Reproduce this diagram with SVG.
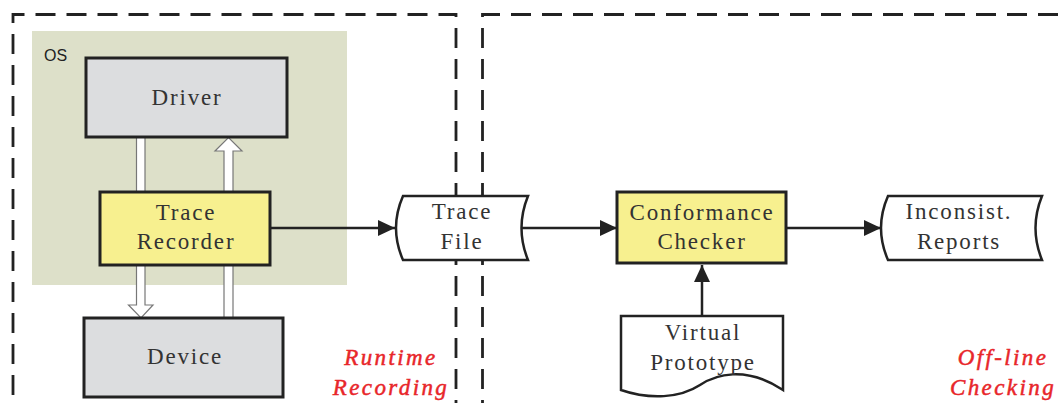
<svg xmlns="http://www.w3.org/2000/svg" width="1060" height="403" viewBox="0 0 1060 403">
<style>
.dash{fill:none;stroke:#222;stroke-width:2.8;stroke-dasharray:20 11}
.box{stroke:#222;stroke-width:3}
.gray{fill:#dcdddf}
.yel{fill:#f7f08f}
.doc{fill:#fff;stroke:#222;stroke-width:2.5}
.lbl{font-family:"Liberation Serif","Times New Roman",serif;font-size:23px;fill:#333;text-anchor:middle;letter-spacing:1.8px}
.red{font-family:"Liberation Serif","Times New Roman",serif;font-size:23px;fill:#e8262a;stroke:#e8262a;stroke-width:0.5;font-style:italic;text-anchor:middle;letter-spacing:2.4px}
.blk{fill:#fff;stroke:#777;stroke-width:1.2}
.con{fill:none;stroke:#222;stroke-width:2.5}
</style>
<defs>
<marker id="ah" markerWidth="17" markerHeight="16" refX="17" refY="8" orient="auto" markerUnits="userSpaceOnUse">
<path d="M0,0 L17,8 L0,16 Z" fill="#222"/>
</marker>
</defs>
<rect width="1060" height="403" fill="#fff"/>
<g id="regions">
<path class="dash" d="M456,420 V14.5 H13 V420"/>
<path class="dash" d="M482.5,420 V14.5 H1080"/>
<rect id="os-area" x="32" y="31" width="315" height="254" fill="#dde0c9"/>
<text x="44" y="61" font-family="Liberation Sans,Arial,sans-serif" font-size="16" fill="#222">OS</text>
<text class="red" x="391" y="365">Runtime</text>
<text class="red" x="391" y="395">Recording</text>
<text class="red" x="1003" y="365">Off-line</text>
<text class="red" x="1003" y="395">Checking</text>
</g>
<g id="block-arrows">
<path class="blk" d="M136.5,137 H145 V305 H153 L141,318 L128.5,305 H136.5 Z"/>
<path class="blk" d="M224,318 H233 V151 H242 L228.5,137.5 L215,151 H224 Z"/>
</g>
<g id="driver">
<rect class="box gray" x="86" y="58" width="201" height="79"/>
<text class="lbl" x="187" y="105">Driver</text>
</g>
<g id="trace-recorder">
<rect class="box yel" x="100" y="192" width="170" height="73"/>
<text class="lbl" x="186" y="220">Trace</text>
<text class="lbl" x="186" y="249">Recorder</text>
</g>
<g id="device">
<rect class="box gray" x="84" y="318" width="199" height="79"/>
<text class="lbl" x="185" y="364">Device</text>
</g>
<g id="connectors">
<line class="con" x1="270" y1="228" x2="395" y2="228" marker-end="url(#ah)"/>
<line class="con" x1="522" y1="228" x2="617" y2="228" marker-end="url(#ah)"/>
<line class="con" x1="786" y1="228" x2="881" y2="228" marker-end="url(#ah)"/>
<line class="con" x1="702" y1="316" x2="702" y2="265" marker-end="url(#ah)"/>
</g>
<g id="trace-file">
<path class="doc" d="M403,196 H528 Q515,228 528,260 H403 Q389,228 403,196 Z"/>
<text class="lbl" x="462" y="219">Trace</text>
<text class="lbl" x="462" y="249">File</text>
</g>
<g id="conformance-checker">
<rect class="box yel" x="617" y="192" width="169" height="71"/>
<text class="lbl" x="702" y="220">Conformance</text>
<text class="lbl" x="702" y="249">Checker</text>
</g>
<g id="inconsist-reports">
<path class="doc" d="M888,196 H1042 Q1029,228 1042,260 H888 Q874,228 888,196 Z"/>
<text class="lbl" x="959" y="219">Inconsist.</text>
<text class="lbl" x="959" y="249">Reports</text>
</g>
<g id="virtual-prototype">
<path class="doc" d="M621,316 H783 V390 C745,365 715,375 700,385 C680,398 650,400 621,390 Z"/>
<text class="lbl" x="703" y="340">Virtual</text>
<text class="lbl" x="703" y="370">Prototype</text>
</g>
</svg>
